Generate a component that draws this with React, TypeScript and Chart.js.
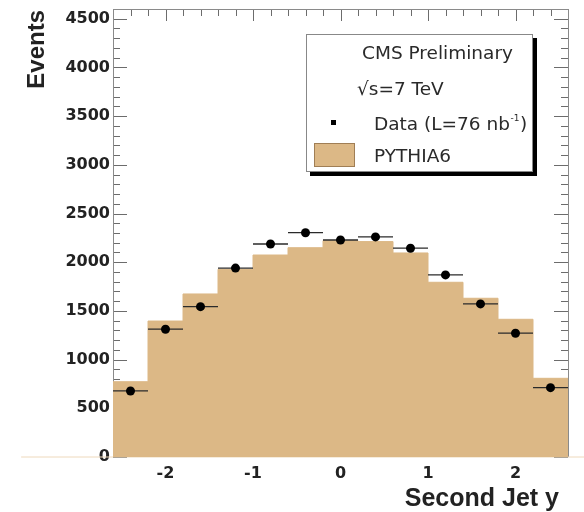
import React, { useEffect, useRef } from "react";
import { Chart, registerables } from "chart.js";

Chart.register(...registerables);

// ---- data ----
const binCenters = [-2.4, -2.0, -1.6, -1.2, -0.8, -0.4, 0.0, 0.4, 0.8, 1.2, 1.6, 2.0, 2.4];
const binHalfWidth = 0.2;
const pythia6 = [773, 1396, 1674, 1927, 2074, 2149, 2221, 2212, 2095, 1794, 1630, 1414, 808];
const dataEvents = [678, 1312, 1544, 1940, 2187, 2303, 2228, 2260, 2144, 1870, 1572, 1271, 712];
const xTickValues = [-2, -1, 0, 1, 2];
const yTickValues = [0, 500, 1000, 1500, 2000, 2500, 3000, 3500, 4000, 4500];
const xRange = [-2.6, 2.6];
const yRange = [0, 4600];
const baselineRange = [-3.65, 3.3];

const FILL = "#dcb886";
const FRAME = "#6c6c6c";
const TEXT = "#222222";

const framePlugin = {
  id: "rootFrame",
  beforeDatasetsDraw(chart: any) {
    const { ctx, chartArea: a, scales } = chart;
    const xs = scales.x;
    const ys = scales.y;
    const L = Math.round(a.left);
    const R = Math.round(a.right);
    const T = Math.round(a.top);
    const B = Math.round(a.bottom);
    ctx.save();
    ctx.fillStyle = FRAME;
    // y ticks (left + right, pointing inward)
    for (let k = 0; k <= 46; k++) {
      const v = yRange[0] + k * 100;
      const y = Math.round(ys.getPixelForValue(v));
      const len = k % 5 === 0 ? 14 : 7;
      ctx.fillRect(L, y, len, 1);
      ctx.fillRect(R - len, y, len, 1);
    }
    // x ticks on top (pointing inward)
    for (let i = 0; i <= 26; i++) {
      const v = xRange[0] + i * 0.2;
      const x = Math.round(xs.getPixelForValue(v));
      const major = Math.abs(v - Math.round(v)) < 1e-6;
      const len = major ? 12 : 7;
      ctx.fillRect(x, T, 1, len);
    }
    // frame
    ctx.fillStyle = "#8a8a8a";
    ctx.fillRect(L, T, R - L + 1, 1);
    ctx.fillRect(L, T, 1, B - T);
    ctx.fillRect(R, T, 1, B - T);
    ctx.restore();
  },
  afterDraw(chart: any) {
    const { ctx } = chart;
    ctx.save();
    ctx.fillStyle = TEXT;
    // axis titles
    ctx.font = "bold 24px 'Liberation Sans', Arial, sans-serif";
    ctx.save();
    ctx.translate(44, 10);
    ctx.rotate(-Math.PI / 2);
    ctx.textAlign = "right";
    ctx.textBaseline = "alphabetic";
    ctx.fillText("Events", 0, 0);
    ctx.restore();
    ctx.font = "bold 25px 'Liberation Sans', Arial, sans-serif";
    ctx.textAlign = "right";
    ctx.textBaseline = "alphabetic";
    ctx.fillText("Second Jet y", 559, 506);

    // legend box with shadow
    const bx = 306, by = 34, bw = 227, bh = 138;
    ctx.fillStyle = "#000";
    ctx.fillRect(bx + 4, by + 4, bw, bh);
    ctx.fillStyle = "#fff";
    ctx.fillRect(bx, by, bw, bh);
    ctx.strokeStyle = "#888";
    ctx.lineWidth = 1;
    ctx.strokeRect(bx + 0.5, by + 0.5, bw - 1, bh - 1);

    ctx.fillStyle = "#2a2a2a";
    ctx.textAlign = "left";
    ctx.font = "18.5px 'DejaVu Sans', sans-serif";
    ctx.fillText("CMS Preliminary", 362, 59);
    ctx.fillText("\u221As=7 TeV", 357, 95);
    const t1 = "Data (L=76 nb";
    ctx.fillText(t1, 374, 130);
    const w = ctx.measureText(t1).width;
    ctx.font = "9px 'DejaVu Sans', sans-serif";
    ctx.fillText("-1", 374 + w + 0.5, 121);
    const w2 = ctx.measureText("-1").width;
    ctx.font = "18.5px 'DejaVu Sans', sans-serif";
    ctx.fillText(")", 374 + w + w2 + 1, 130);
    ctx.fillText("PYTHIA6", 374, 162);

    // legend markers
    ctx.fillStyle = "#000";
    ctx.fillRect(331, 120, 5, 5);
    ctx.fillStyle = FILL;
    ctx.fillRect(314, 143, 41, 24);
    ctx.strokeStyle = "#a07e55";
    ctx.strokeRect(314.5, 143.5, 40, 23);
    ctx.restore();
  },
};

export default function App() {
  const ref = useRef<HTMLCanvasElement | null>(null);

  useEffect(() => {
    if (!ref.current) return;
    const histPoints = [
      { x: binCenters[0] - binHalfWidth, y: 0 },
      ...binCenters.map((c, i) => ({ x: c - binHalfWidth, y: pythia6[i] })),
      { x: binCenters[binCenters.length - 1] + binHalfWidth, y: pythia6[pythia6.length - 1] },
      { x: binCenters[binCenters.length - 1] + binHalfWidth, y: 0 },
    ];
    const dataPoints = binCenters.map((c, i) => ({ x: c, y: dataEvents[i] }));
    const halfBinPx = (ctx: any) => {
      const s = ctx.chart.scales.x;
      return Math.abs(s.getPixelForValue(binHalfWidth) - s.getPixelForValue(0));
    };

    const chart = new Chart(ref.current, {
      type: "scatter",
      data: {
        datasets: [
          { label: "Data markers", data: dataPoints, pointStyle: "circle", pointRadius: 4.5, pointBackgroundColor: "#000", pointBorderWidth: 0 } as any,
          { label: "Data x-errors", data: dataPoints, pointStyle: "line", pointRadius: halfBinPx, pointBorderColor: "#2a2a2a", pointBorderWidth: 1.3 } as any,
          { type: "line", label: "PYTHIA6", data: histPoints, stepped: "before", fill: "origin", backgroundColor: FILL, borderColor: FILL, borderWidth: 1, pointRadius: 0 } as any,
          { type: "line", label: "baseline", data: [{ x: baselineRange[0], y: 0 }, { x: baselineRange[1], y: 0 }], borderColor: "#eed9bc", borderWidth: 1, pointRadius: 0, clip: false } as any,
        ],
      },
      options: {
        animation: false,
        responsive: false,
        devicePixelRatio: 1,
        layout: { padding: { left: 0, right: 16, top: 9, bottom: 0 } },
        plugins: { legend: { display: false }, tooltip: { enabled: false } },
        scales: {
          x: {
            type: "linear", min: xRange[0], max: xRange[1],
            grid: { display: false, drawTicks: false }, border: { display: false },
            afterFit: (s: any) => { s.height = 55; s.paddingLeft = 0; s.paddingRight = 0; },
            afterBuildTicks: (s: any) => { s.ticks = xTickValues.map((v) => ({ value: v })); },
            ticks: { padding: 7, color: TEXT, font: { family: "'DejaVu Sans', sans-serif", weight: "bold", size: 16 }, callback: (v: any) => String(v) },
          },
          y: {
            type: "linear", min: yRange[0], max: yRange[1],
            grid: { display: false, drawTicks: false }, border: { display: false },
            afterFit: (s: any) => { s.width = 113; s.paddingTop = 0; s.paddingBottom = 0; },
            afterBuildTicks: (s: any) => { s.ticks = yTickValues.map((v) => ({ value: v })); },
            ticks: { padding: 3, color: TEXT, font: { family: "'DejaVu Sans', sans-serif", weight: "bold", size: 16 }, callback: (v: any) => String(v) },
          },
        },
      },
      plugins: [framePlugin],
    });
    return () => chart.destroy();
  }, []);

  return (
    <div style={{ position: "fixed", left: 0, top: 0, width: 584, height: 512, background: "#fff" }}>
      <canvas ref={ref} width={584} height={512} style={{ display: "block", width: 584, height: 512 }} />
    </div>
  );
}
